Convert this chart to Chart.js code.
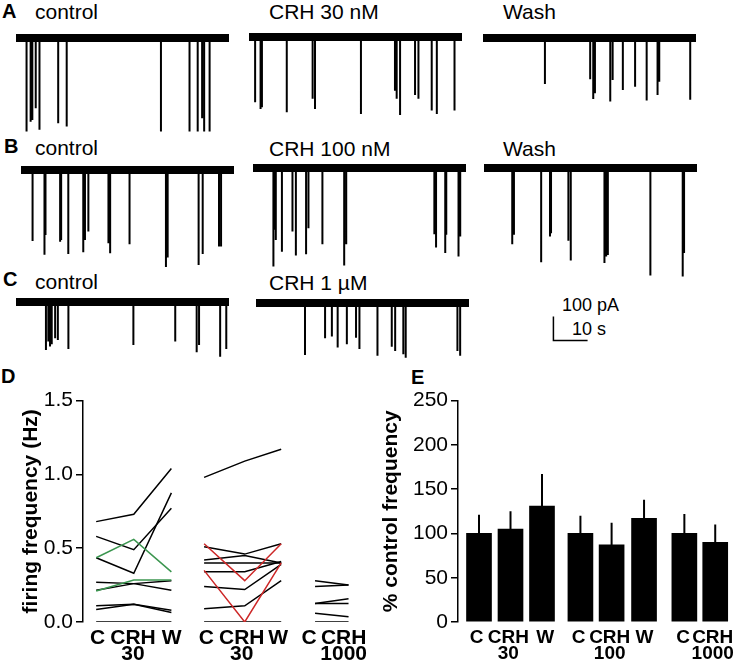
<!DOCTYPE html>
<html>
<head>
<meta charset="utf-8">
<script src="https://cdn.jsdelivr.net/npm/chart.js@4.4.0/dist/chart.umd.min.js"></script>
<style>
body { margin: 0; background: #fff; }
#fig { position: relative; width: 742px; height: 668px; overflow: hidden; font-family: 'Liberation Sans', Arial, sans-serif; color: #000; }
#fig canvas { position: absolute; }
.lbl { position: absolute; font-size: 21px; line-height: 21px; white-space: nowrap; }
.pl { position: absolute; font-size: 20px; line-height: 20px; font-weight: bold; }
.sb { position: absolute; font-size: 18px; line-height: 18px; white-space: nowrap; }
</style>
</head>
<body>
<div id="fig">
  <div class="pl" style="left:2px;top:1px">A</div>
  <div class="lbl" style="left:35px;top:1px">control</div>
  <div class="lbl" style="left:269px;top:1px">CRH 30 nM</div>
  <div class="lbl" style="left:503px;top:1px">Wash</div>

  <div class="pl" style="left:4px;top:136px">B</div>
  <div class="lbl" style="left:35px;top:137px">control</div>
  <div class="lbl" style="left:269px;top:138px">CRH 100 nM</div>
  <div class="lbl" style="left:503px;top:138px">Wash</div>

  <div class="pl" style="left:3px;top:269px">C</div>
  <div class="lbl" style="left:35px;top:271px">control</div>
  <div class="lbl" style="left:269px;top:272px">CRH 1 µM</div>

  <div class="sb" style="left:562px;top:296px">100 pA</div>
  <div class="sb" style="left:572px;top:320px">10 s</div>

  <div class="pl" style="left:1px;top:366px">D</div>
  <div class="pl" style="left:411px;top:367px">E</div>
</div>
<script>
// Trazas: [tiempo (s), amplitud (pA)] de cada corriente hacia abajo
const spikesAControl = [[3.1,390],[4.3,349],[4.8,342],[5.8,293],[6.9,383],[12.4,356],[14.9,369],[42.6,390],[51.0,390],[53.4,390],[54.7,335],[55.3,390],[56.9,390]];
const spikesACrh30 = [[1.8,272],[3.4,300],[3.8,293],[11.1,314],[18.7,258],[19.4,300],[32.9,321],[42.9,224],[43.4,258],[44.4,325],[48.8,242],[49.8,258],[53.7,307],[55.2,321],[60.4,307]];
const spikesAWash = [[18.2,192],[31.5,172],[32.4,255],[32.9,230],[37.4,265],[38.1,175],[41.1,217],[44.7,203],[48.1,261],[51.3,238],[51.8,182],[60.9,258]];
const spikesBControl = [[3.4,296],[6.9,354],[7.2,271],[11.5,299],[11.8,292],[13.9,351],[18.3,343],[18.8,292],[19.8,257],[25.7,306],[26.2,347],[31.9,310],[42.6,405],[43.1,365],[52.2,396],[53.4,351],[58.2,319],[58.8,319]];
const spikesBCrh100 = [[6.0,411],[6.4,258],[6.7,300],[8.5,349],[11.6,265],[12.6,365],[15.6,360],[16.3,251],[20.4,318],[26.8,407],[27.4,318],[53.3,276],[53.8,332],[56.5,355],[56.8,279],[60.4,369],[60.9,286]];
const spikesBWash = [[8.3,318],[8.8,279],[16.8,393],[19.4,286],[19.7,272],[24.8,304],[25.5,386],[35.4,397],[35.9,369],[36.4,363],[48.9,449],[58.4,453],[58.8,355]];
const spikesCControl = [[8.8,200],[9.5,165],[10.0,186],[10.5,176],[11.5,151],[12.3,158],[15.4,196],[34.5,179],[46.8,165],[53.1,210],[53.8,179],[60.0,228],[61.8,196]];
const spikesCCrh1000 = [[14.4,217],[20.3,147],[22.3,140],[24.0,186],[26.7,172],[29.4,145],[30.4,192],[35.7,220],[39.9,182],[40.9,200],[43.3,214],[44.0,228],[59.2,200],[60.0,220]];
const scaleBar = { sec: 10, pA: 100 };

// Panel D: frecuencia de disparo (Hz) por célula, C / CRH / W
const dTickLabels = ['C', ['CRH', '30'], 'W', 'C', ['CRH', '30'], 'W', 'C', ['CRH', '1000']];
const dSlots = [0, 1, 2, 2.87, 3.95, 4.92, 5.82, 6.71];
const dLabelSlots = [0.04, 0.98, 2.01, 2.93, 3.87, 4.84, 5.66, 6.58];
const crh30Black = [[0.68,0.73,1.04],[0.58,0.49,0.77],[0.435,0.33,0.875],[0.27,0.26,0.215],[0.215,0.26,0.28],[0.11,0.12,0.08],[0.085,0.12,0.065],[0,0,0]];
const crh30Green = [[0.435,0.56,0.34],[0.21,0.285,0.285]];
const crh100Black = [[0.98,1.09,1.17],[0.51,0.46,0.53],[0.42,0.45,0.40],[0.40,0.40,0.40],[0.34,0.34,0.41],[0.24,0.22,0.39],[0.09,0.11,0.28],[0,0,0]];
const crh100Red = [[0.53,0.28,0.53],[0.35,0,0.40]];
const crh1000Black = [[0.28,0.25],[0.24,0.25],[0.126,0.158],[0.126,0.126],[0.059,0.036],[0,0]];

// Panel E: % frecuencia control (media + SEM)
const eTickLabels = ['C', ['CRH', '30'], 'W', 'C', ['CRH', '100'], 'W', 'C', ['CRH', '1000']];
const eSlots = [0, 1, 2, 3.22, 4.21, 5.24, 6.52, 7.5];
const eLabelSlots = [-0.08, 0.93, 2.1, 3.16, 4.15, 5.25, 6.48, 7.42];
const eMean = [100, 105, 131, 100, 87, 117, 100, 90];
const eSem = [21, 20, 36, 20, 25, 21, 22, 20];

Chart.defaults.font.family = "'Liberation Sans', Arial, sans-serif";
Chart.defaults.color = '#000';
Chart.defaults.animation = false;

const PX_PER_S = 3.4;
const PX_PER_PA = 0.24;
const TRACE_SEC = 62.6;
const TRACE_TOP = 42;
const TRACE_BOTTOM = -480;

function addCanvas(left, top, w, h) {
    const c = document.createElement('canvas');
    c.width = w;
    c.height = h;
    c.style.left = left + 'px';
    c.style.top = top + 'px';
    c.style.width = w + 'px';
    c.style.height = h + 'px';
    document.getElementById('fig').appendChild(c);
    return c;
}

const noPlugins = { legend: { display: false }, tooltip: { enabled: false } };

function drawTrace(spikes, left, baseline) {
    const w = Math.round(TRACE_SEC * PX_PER_S);
    const h = Math.round((TRACE_TOP - TRACE_BOTTOM) * PX_PER_PA);
    const canvas = addCanvas(left, baseline - TRACE_TOP * PX_PER_PA, w, h);
    const path = [{ x: 0, y: 0 }];
    spikes.forEach(([t, amp]) => {
        path.push({ x: t, y: 0 }, { x: t, y: -amp }, { x: t, y: 0 });
    });
    path.push({ x: TRACE_SEC, y: 0 });
    new Chart(canvas, {
        type: 'line',
        data: {
            datasets: [
                { data: [{ x: 0, y: 0 }, { x: TRACE_SEC, y: 0 }], borderColor: '#000', borderWidth: 8, pointRadius: 0 },
                { data: path, borderColor: '#000', borderWidth: 2, pointRadius: 0, borderJoinStyle: 'bevel' }
            ]
        },
        options: {
            responsive: false,
            events: [],
            layout: { padding: 0 },
            plugins: noPlugins,
            scales: {
                x: { type: 'linear', display: false, min: 0, max: TRACE_SEC },
                y: { display: false, min: TRACE_BOTTOM, max: TRACE_TOP }
            }
        }
    });
}

drawTrace(spikesAControl, 16, 38);
drawTrace(spikesACrh30, 249, 37);
drawTrace(spikesAWash, 483, 38);
drawTrace(spikesBControl, 21, 170);
drawTrace(spikesBCrh100, 253, 168);
drawTrace(spikesBWash, 484, 168);
drawTrace(spikesCControl, 16, 302);
drawTrace(spikesCCrh1000, 256, 303);

// Barra de escala
(function () {
    const canvas = addCanvas(553 - 1 * PX_PER_S, 341 - 115 * PX_PER_PA, Math.round(12 * PX_PER_S), Math.round(130 * PX_PER_PA));
    new Chart(canvas, {
        type: 'line',
        data: {
            datasets: [{
                data: [{ x: 0, y: scaleBar.pA }, { x: 0, y: 0 }, { x: scaleBar.sec, y: 0 }],
                borderColor: '#000', borderWidth: 1.5, pointRadius: 0, borderJoinStyle: 'miter'
            }]
        },
        options: {
            responsive: false, events: [], layout: { padding: 0 }, plugins: noPlugins,
            scales: {
                x: { type: 'linear', display: false, min: -1, max: 11 },
                y: { display: false, min: -15, max: 115 }
            }
        }
    });
})();

function cellSets(cells, slots, color) {
    return cells.map(v => ({
        data: v.map((y, i) => ({ x: slots[i], y: y })),
        borderColor: color,
        borderWidth: 1.5,
        pointRadius: 0
    }));
}

const axisY = {
    grid: { display: true, drawOnChartArea: false, drawTicks: true, tickLength: 7, color: '#000', lineWidth: 1.5 },
    border: { display: true, color: '#000', width: 1.5 }
};

// Panel D
const dDatasets = [
    ...cellSets(crh30Green, dSlots.slice(0, 3), 'rgb(60, 150, 80)'),
    ...cellSets(crh100Red, dSlots.slice(3, 6), 'rgb(205, 40, 40)'),
    ...cellSets(crh30Black, dSlots.slice(0, 3), '#000'),
    ...cellSets(crh100Black, dSlots.slice(3, 6), '#000'),
    ...cellSets(crh1000Black, dSlots.slice(6, 8), '#000')
];

new Chart(addCanvas(0, 385, 375, 283), {
    type: 'line',
    data: { datasets: dDatasets },
    options: {
        responsive: false, events: [], plugins: noPlugins,
        layout: { padding: { top: 15, right: 0, left: 0, bottom: 0 } },
        scales: {
            x: {
                type: 'linear', min: -0.35, max: 7.35, offset: false,
                afterBuildTicks: s => { s.ticks = dLabelSlots.map(v => ({ value: v })); },
                ticks: {
                    autoSkip: false, maxRotation: 0, minRotation: 0, padding: 8,
                    font: { size: 21, weight: 'bold', lineHeight: '16px' },
                    callback: (v, i) => dTickLabels[i]
                },
                grid: { display: false, drawTicks: false },
                border: { display: false },
                afterFit: s => { s.height = 46; }
            },
            y: {
                min: 0, max: 1.5,
                ticks: { stepSize: 0.5, padding: 3, font: { size: 21 }, callback: v => v.toFixed(1) },
                ...axisY,
                title: { display: true, text: 'firing frequency (Hz)', font: { size: 21, weight: 'bold' }, padding: { top: 19, bottom: 0 } },
                afterFit: s => { s.width = 83; }
            }
        }
    }
});

// Panel E
const errorPath = [];
eSlots.forEach((x, i) => {
    errorPath.push({ x: x, y: eMean[i] }, { x: x, y: eMean[i] + eSem[i] }, { x: x, y: null });
});

new Chart(addCanvas(370, 385, 372, 283), {
    type: 'bar',
    data: {
        datasets: [
            { type: 'line', data: errorPath, borderColor: '#000', borderWidth: 2, pointRadius: 0, spanGaps: false },
            { data: eSlots.map((x, i) => ({ x: x, y: eMean[i] })), backgroundColor: '#000', borderWidth: 0, barThickness: 25 }
        ]
    },
    options: {
        responsive: false, events: [], plugins: noPlugins,
        layout: { padding: { top: 14, right: 0, left: 0, bottom: 0 } },
        scales: {
            x: {
                type: 'linear', min: -0.667, max: 8.35, offset: false,
                afterBuildTicks: s => { s.ticks = eLabelSlots.map(v => ({ value: v })); },
                ticks: {
                    autoSkip: false, maxRotation: 0, minRotation: 0, padding: 8,
                    font: { size: 19, weight: 'bold', lineHeight: '16px' },
                    callback: (v, i) => eTickLabels[i]
                },
                grid: { display: false, drawTicks: false },
                border: { display: false },
                afterFit: s => { s.height = 46; }
            },
            y: {
                min: 0, max: 250,
                ticks: { stepSize: 50, padding: 3, font: { size: 21 } },
                ...axisY,
                title: { display: true, text: '% control frequency', font: { size: 21, weight: 'bold' }, padding: { top: 9, bottom: 0 } },
                afterFit: s => { s.width = 88; }
            }
        }
    }
});
</script>
</body>
</html>
